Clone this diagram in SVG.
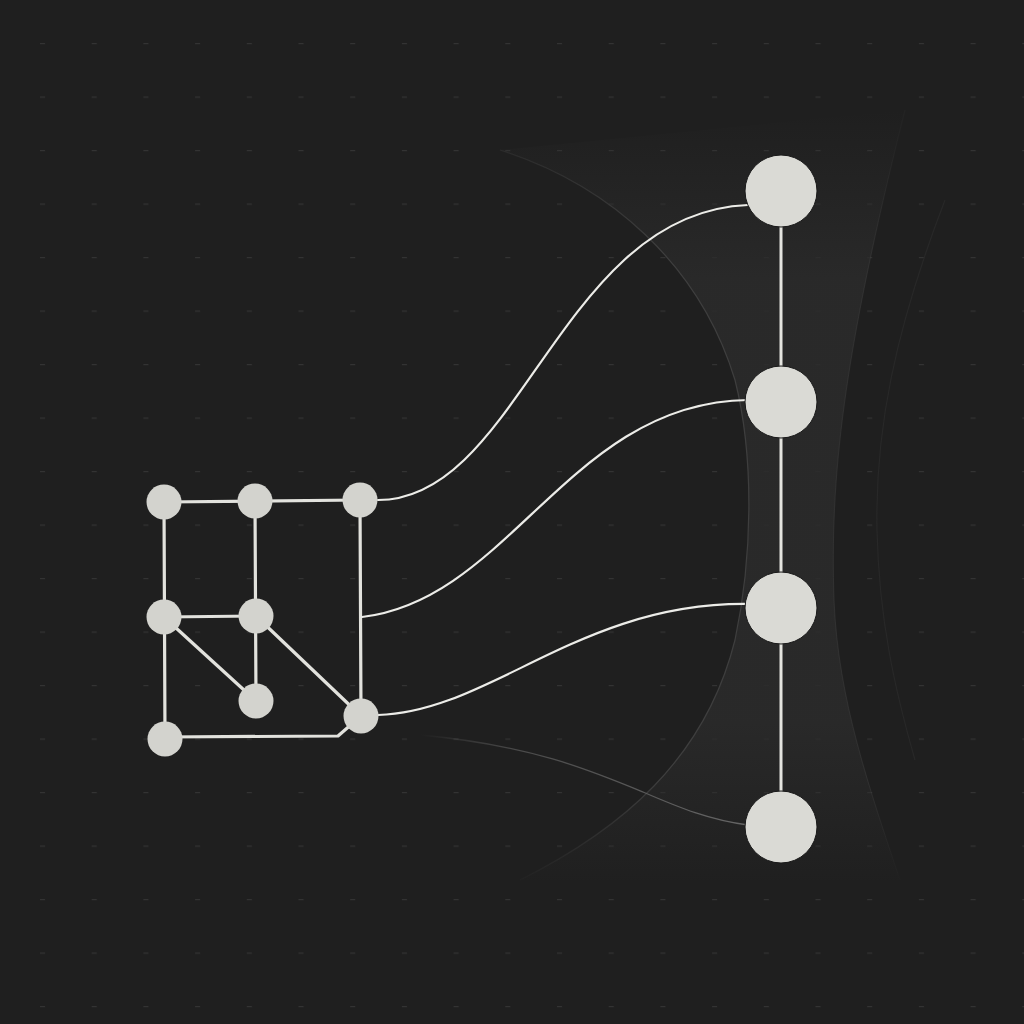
<svg xmlns="http://www.w3.org/2000/svg" width="1024" height="1024" viewBox="0 0 1024 1024">
  <defs>
    <pattern id="grid" x="40" y="43" width="51.7" height="53.5" patternUnits="userSpaceOnUse">
      <rect x="0" y="0" width="5" height="1.2" fill="#333333"/>
    </pattern>
    <linearGradient id="bandFade" gradientUnits="userSpaceOnUse" x1="0" y1="110" x2="0" y2="890">
      <stop offset="0" stop-color="#2b2b2b" stop-opacity="0"/>
      <stop offset="0.22" stop-color="#2b2b2b" stop-opacity="1"/>
      <stop offset="0.78" stop-color="#2b2b2b" stop-opacity="1"/>
      <stop offset="1" stop-color="#2b2b2b" stop-opacity="0"/>
    </linearGradient>
    <linearGradient id="edgeFade" gradientUnits="userSpaceOnUse" x1="0" y1="140" x2="0" y2="890">
      <stop offset="0" stop-color="#3e3e3e" stop-opacity="0.3"/>
      <stop offset="0.15" stop-color="#3e3e3e" stop-opacity="1"/>
      <stop offset="0.85" stop-color="#3e3e3e" stop-opacity="1"/>
      <stop offset="1" stop-color="#3e3e3e" stop-opacity="0"/>
    </linearGradient>
    <linearGradient id="fadeLine" gradientUnits="userSpaceOnUse" x1="420" y1="0" x2="745" y2="0">
      <stop offset="0" stop-color="#555" stop-opacity="0"/>
      <stop offset="0.3" stop-color="#555" stop-opacity="0.8"/>
      <stop offset="1" stop-color="#666" stop-opacity="1"/>
    </linearGradient>
    <style>
      .node { fill: #d3d3ce; }
      .big { fill: #dadad5; stroke: #1a1a1a; stroke-width: 1; }
      .edge { fill: none; stroke: #e2e2dd; stroke-width: 3.2; stroke-linecap: round; stroke-linejoin: round; }
      .curve { fill: none; stroke: #ecece8; stroke-width: 2.2; stroke-linecap: round; }
      .spine { fill: none; stroke: #e4e4df; stroke-width: 3; }
    </style>
  </defs>

  <rect width="1024" height="1024" fill="#1f1f1f"/>
  <rect width="1024" height="1024" fill="url(#grid)"/>

  <g id="backdrop">
    <path d="M 500,150 C 610,185 700,265 735,380 C 755,460 752,560 735,640 C 705,760 620,830 520,880 L 900,880 C 870,790 838,700 834,600 C 830,480 842,360 905,110 Z" fill="url(#bandFade)" opacity="0.85"/>
    <path d="M 500,150 C 610,185 700,265 735,380 C 755,460 752,560 735,640 C 705,760 620,830 520,880" fill="none" stroke="url(#edgeFade)" stroke-width="1.2"/>
    <path d="M 905,110 C 842,360 830,480 834,600 C 838,700 870,790 900,880" fill="none" stroke="url(#edgeFade)" stroke-width="1" opacity="0.5"/>
    <path d="M 945,200 C 895,330 875,430 877,530 C 879,620 895,690 915,760" fill="none" stroke="#282828" stroke-width="1.2"/>
  </g>

  <g id="connectors">
    <line class="edge" x1="164" y1="502" x2="360" y2="500"/>
    <line class="edge" x1="164" y1="502" x2="165" y2="739"/>
    <line class="edge" x1="255" y1="501" x2="256" y2="701"/>
    <line class="edge" x1="164" y1="617" x2="256" y2="616"/>
    <line class="edge" x1="164" y1="617" x2="256" y2="701"/>
    <line class="edge" x1="256" y1="616" x2="361" y2="716"/>
    <line class="edge" x1="360" y1="500" x2="361" y2="716"/>
    <polyline class="edge" points="165,737 338,736 361,716"/>
    <path class="curve" d="M 378,500 C 520,500 560,212 748,205"/>
    <path class="curve" d="M 362,617 C 510,600 570,402 748,400"/>
    <path class="curve" d="M 378,715 C 490,712 580,602 748,604"/>
    <path d="M 420,735 C 530,745 590,770 643,792 C 680,808 710,820 748,825" fill="none" stroke="url(#fadeLine)" stroke-width="1.3"/>
    <line class="spine" x1="781" y1="191" x2="781" y2="827"/>
  </g>

  <g id="n-a"><circle class="node" cx="164" cy="502" r="17.5"/></g>
  <g id="n-b"><circle class="node" cx="255" cy="501" r="17.5"/></g>
  <g id="n-c"><circle class="node" cx="360" cy="500" r="17.5"/></g>
  <g id="n-d"><circle class="node" cx="164" cy="617" r="17.5"/></g>
  <g id="n-e"><circle class="node" cx="256" cy="616" r="17.5"/></g>
  <g id="n-f"><circle class="node" cx="256" cy="701" r="17.5"/></g>
  <g id="n-g"><circle class="node" cx="165" cy="739" r="17.5"/></g>
  <g id="n-h"><circle class="node" cx="361" cy="716" r="17.5"/></g>

  <g id="r-1"><circle class="big" cx="781" cy="191" r="36"/></g>
  <g id="r-2"><circle class="big" cx="781" cy="402" r="36"/></g>
  <g id="r-3"><circle class="big" cx="781" cy="608" r="36"/></g>
  <g id="r-4"><circle class="big" cx="781" cy="827" r="36"/></g>
</svg>
